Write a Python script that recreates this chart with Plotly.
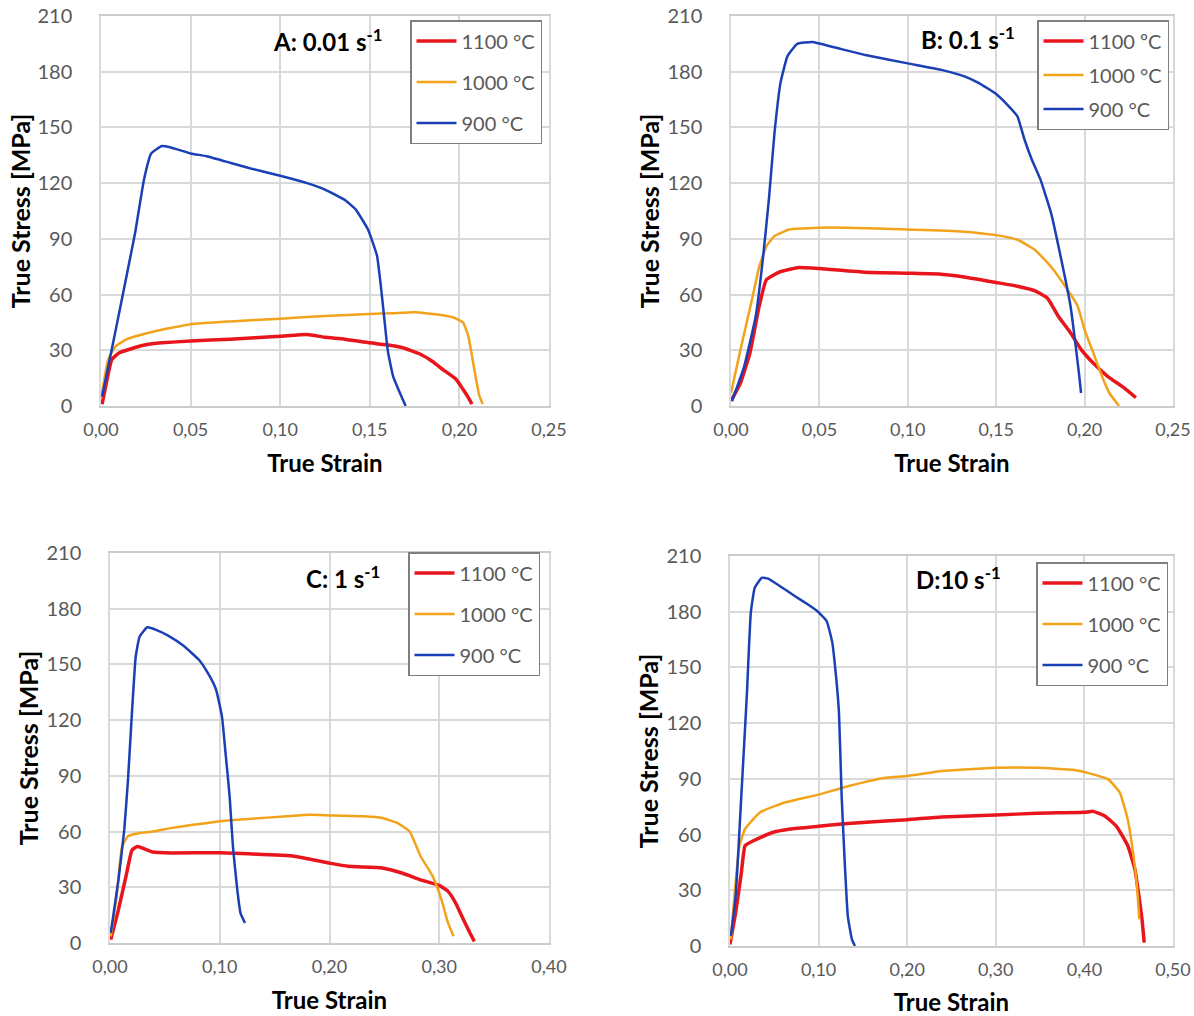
import plotly.graph_objects as go

# ---------------- data ----------------
temps = ["1100 °C", "1000 °C", "900 °C"]
temps_b = ["1100 ºC", "1000 °C", "900 °C"]

a_1100_x = [0.0006, 0.003, 0.006, 0.010, 0.019, 0.025, 0.034, 0.05, 0.072, 0.10, 0.115, 0.125, 0.136, 0.15, 0.159, 0.168, 0.178, 0.185, 0.191, 0.198, 0.202, 0.205, 0.207]
a_1100_y = [1, 12.5, 25, 28.5, 31.5, 33, 34, 35, 36, 37.5, 38.5, 37, 36, 34, 33, 31.5, 28, 24, 19.5, 14.5, 9, 4.5, 1]
a_1000_x = [0.0, 0.004, 0.008, 0.0145, 0.029, 0.05, 0.072, 0.10, 0.125, 0.15, 0.163, 0.175, 0.19, 0.197, 0.202, 0.205, 0.208, 0.211, 0.213]
a_1000_y = [4, 25, 32, 36, 40, 44, 45.5, 47, 48.5, 49.5, 50, 50.5, 49, 47.5, 45, 37.5, 21.5, 6, 1]
a_900_x = [0.0006, 0.008, 0.019, 0.024, 0.028, 0.034, 0.038, 0.05, 0.059, 0.072, 0.083, 0.10, 0.115, 0.125, 0.136, 0.142, 0.149, 0.154, 0.156, 0.158, 0.160, 0.163, 0.170]
a_900_y = [5, 40, 93, 122, 136, 140, 139.5, 136, 134.5, 131, 128, 124, 120, 116.5, 111, 106, 95, 81, 66, 48, 30, 16, 0]

b_1100_x = [0.0, 0.0054, 0.0107, 0.016, 0.020, 0.027, 0.0375, 0.05, 0.076, 0.10, 0.119, 0.132, 0.15, 0.162, 0.172, 0.179, 0.185, 0.192, 0.198, 0.205, 0.213, 0.222, 0.229]
b_1100_y = [2.7, 12.5, 28.5, 54, 68, 72, 74.5, 74, 72, 71.5, 71, 69.5, 66.5, 64.5, 62, 58, 48.5, 39.5, 30.5, 23, 16, 10, 4.5]
b_1000_x = [0.0, 0.0054, 0.0118, 0.016, 0.020, 0.0246, 0.033, 0.05, 0.065, 0.10, 0.13, 0.15, 0.162, 0.172, 0.181, 0.189, 0.196, 0.200, 0.205, 0.209, 0.214, 0.2195]
b_1000_y = [7, 30.5, 57, 75, 86, 91.5, 95, 96, 96, 95, 94, 92, 89.5, 84, 75, 64.5, 54, 41, 28.5, 18, 7, 0]
b_900_x = [0.0006, 0.0075, 0.014, 0.018, 0.0214, 0.0246, 0.028, 0.032, 0.0375, 0.046, 0.059, 0.076, 0.10, 0.119, 0.132, 0.140, 0.15, 0.157, 0.162, 0.166, 0.170, 0.175, 0.181, 0.186, 0.192, 0.195, 0.197, 0.198]
b_900_y = [2.7, 21.5, 48.5, 79, 111, 147, 174, 188.5, 195, 196, 193, 189, 184.5, 181, 177.5, 174, 168, 161.5, 156, 143.5, 133, 122, 104, 82.5, 54, 32, 16, 7]

c_1100_x = [0.0007, 0.0077, 0.0146, 0.020, 0.025, 0.039, 0.0565, 0.10, 0.126, 0.168, 0.20, 0.217, 0.248, 0.266, 0.283, 0.30, 0.308, 0.315, 0.322, 0.328, 0.332]
c_1100_y = [1.8, 18, 36, 50, 52, 49, 48.5, 48.6, 48, 46.7, 43, 41.3, 40.4, 37.7, 34, 31, 27.8, 21.5, 12.6, 5.4, 0.9]
c_1000_x = [0.0007, 0.006, 0.011, 0.0164, 0.025, 0.039, 0.0565, 0.074, 0.10, 0.126, 0.161, 0.182, 0.20, 0.231, 0.248, 0.262, 0.273, 0.283, 0.294, 0.302, 0.308, 0.313]
c_1000_y = [3.6, 25, 52, 57.5, 59, 60, 62, 63.5, 65.5, 66.8, 68.2, 69, 68.7, 68.2, 67.3, 64.6, 60, 46.7, 36, 23.3, 10.8, 3.6]
c_900_x = [0.0007, 0.0077, 0.013, 0.0164, 0.020, 0.0234, 0.027, 0.034, 0.0425, 0.053, 0.067, 0.081, 0.0895, 0.0966, 0.102, 0.105, 0.109, 0.112, 0.116, 0.119, 0.123]
c_900_y = [5.4, 34, 61, 88, 124, 154, 165, 170, 168.5, 165.5, 160, 152.5, 145, 136.5, 122, 104, 79, 52, 28.5, 16, 10.8]

d_1100_x = [0.0, 0.0064, 0.0128, 0.017, 0.0256, 0.047, 0.068, 0.10, 0.133, 0.20, 0.239, 0.30, 0.346, 0.40, 0.41, 0.423, 0.436, 0.449, 0.457, 0.4615, 0.465, 0.4675]
d_1100_y = [0.9, 18, 39.5, 54, 56.5, 61, 63, 64.5, 66, 68, 69.5, 70.5, 71.5, 72, 72.5, 70, 64.6, 54, 41.3, 27, 14.4, 1.8]
d_1000_x = [0.001, 0.005, 0.0107, 0.017, 0.034, 0.06, 0.10, 0.133, 0.175, 0.20, 0.239, 0.282, 0.30, 0.346, 0.389, 0.41, 0.427, 0.44, 0.449, 0.455, 0.459, 0.462]
d_1000_y = [3.6, 27, 54, 63, 72, 77, 81.5, 86, 90.6, 91.5, 94.2, 95.5, 96, 96, 94.8, 92.4, 89.7, 82.6, 68, 50, 34, 14.4]
d_900_x = [0.001, 0.0064, 0.0128, 0.019, 0.0235, 0.028, 0.036, 0.043, 0.0556, 0.073, 0.0876, 0.098, 0.109, 0.1154, 0.12, 0.123, 0.126, 0.1295, 0.133, 0.1376, 0.141]
d_900_y = [5.4, 27, 81, 135, 179.5, 193, 198.3, 197.8, 194, 188.5, 184, 180.5, 175, 163.5, 143.6, 125.6, 80.8, 45, 16, 3.6, 0]

panel_titles = ["A: 0.01 s<sup>-1</sup>", "B: 0.1 s<sup>-1</sup>", "C: 1 s<sup>-1</sup>", "D:10 s<sup>-1</sup>"]
x_max = [0.25, 0.25, 0.40, 0.50]
x_dtick = [0.05, 0.05, 0.10, 0.10]
y_ticks = [0, 30, 60, 90, 120, 150, 180, 210]

# ---------------- styling ----------------
W, H = 1194, 1016
colors = ["#e8161c", "#f2a31b", "#1b3fb5"]
widths = [3.5, 2.5, 2.5]
FONT = "Lato"
GRAY = "#595959"
GRID = "#d9d9d9"


def fx(px):
    return px / W


def fy(py):
    return 1 - py / H


# plot areas in page pixels (left, right, top, bottom)
areas = [(101, 549, 16, 406), (731, 1173, 16, 406), (110, 549, 553, 943), (730, 1173, 556, 946)]
legend_pos = [(410, 20, 12), (1037, 20, 5), (408, 552, 12), (1036, 562, 12)]
title_pos = [(328, 40), (968, 38), (343, 577), (958, 578)]
ytitle_standoff = [0, 1, 1, 1]

panels = [
    [(a_1100_x, a_1100_y), (a_1000_x, a_1000_y), (a_900_x, a_900_y)],
    [(b_1100_x, b_1100_y), (b_1000_x, b_1000_y), (b_900_x, b_900_y)],
    [(c_1100_x, c_1100_y), (c_1000_x, c_1000_y), (c_900_x, c_900_y)],
    [(d_1100_x, d_1100_y), (d_1000_x, d_1000_y), (d_900_x, d_900_y)],
]

fig = go.Figure()
layout = dict(
    width=W, height=H, autosize=False,
    margin=dict(l=0, r=0, t=0, b=0, autoexpand=False),
    paper_bgcolor="white", plot_bgcolor="white",
    separators=",.",
    font=dict(family=FONT, color=GRAY),
    annotations=[],
)

for i, series in enumerate(panels):
    n = "" if i == 0 else str(i + 1)
    leg = "legend" + n
    names = temps_b if i == 1 else temps
    for j, (xs, ys) in enumerate(series):
        fig.add_trace(go.Scatter(
            x=xs, y=ys, mode="lines", name=names[j],
            line=dict(color=colors[j], width=widths[j], shape="spline", smoothing=0.4),
            xaxis="x" + n, yaxis="y" + n, legend=leg, legendgroup=f"p{i}_{j}",
        ))
    l, r, t, b = areas[i]
    layout["xaxis" + n] = dict(
        domain=[fx(l), fx(r)], anchor="y" + n, range=[0, x_max[i]], dtick=x_dtick[i],
        tickformat=".2f", showgrid=True, gridcolor=GRID, gridwidth=1.5,
        zeroline=False, showline=True, mirror=True, linecolor="#cccccc", linewidth=1.5,
        ticks="", ticklabelstandoff=7, automargin=False, ticklabeloverflow="allow",
        tickfont=dict(family=FONT, size=18, color=GRAY),
        title=dict(text="<b>True Strain</b>", font=dict(family=FONT, size=24, color="black"), standoff=16),
    )
    layout["yaxis" + n] = dict(
        domain=[fy(b), fy(t)], anchor="x" + n, range=[0, 210], tickvals=y_ticks,
        showgrid=True, gridcolor=GRID, gridwidth=1.5, zeroline=False,
        showline=True, mirror=True, linecolor=GRID, linewidth=1.5,
        ticks="", ticklabelstandoff=23, automargin=False, ticklabeloverflow="allow",
        tickfont=dict(family=FONT, size=20, color=GRAY),
        title=dict(text="<b>True Stress [MPa]</b>", font=dict(family=FONT, size=25, color="black"),
                   standoff=ytitle_standoff[i]),
    )
    lx, ly, gap = legend_pos[i]
    layout[leg] = dict(
        x=fx(lx), y=fy(ly), xanchor="left", yanchor="top",
        bgcolor="white", bordercolor="#7f7f7f", borderwidth=1.5,
        font=dict(family=FONT, size=20, color=GRAY), tracegroupgap=gap,
        itemwidth=40,
    )
    tx, ty = title_pos[i]
    layout["annotations"].append(dict(
        x=fx(tx), y=fy(ty), xref="paper", yref="paper", showarrow=False,
        text="<b>" + panel_titles[i] + "</b>", font=dict(family=FONT, size=24, color="black"),
        xanchor="center", yanchor="middle",
    ))

fig.update_layout(**layout)
fig.write_html(
    "out.html",
    config={"displayModeBar": False},
    post_script="document.body.style.margin='0';"
                "document.documentElement.style.overflow='hidden';"
                "document.body.style.overflow='hidden';",
)
